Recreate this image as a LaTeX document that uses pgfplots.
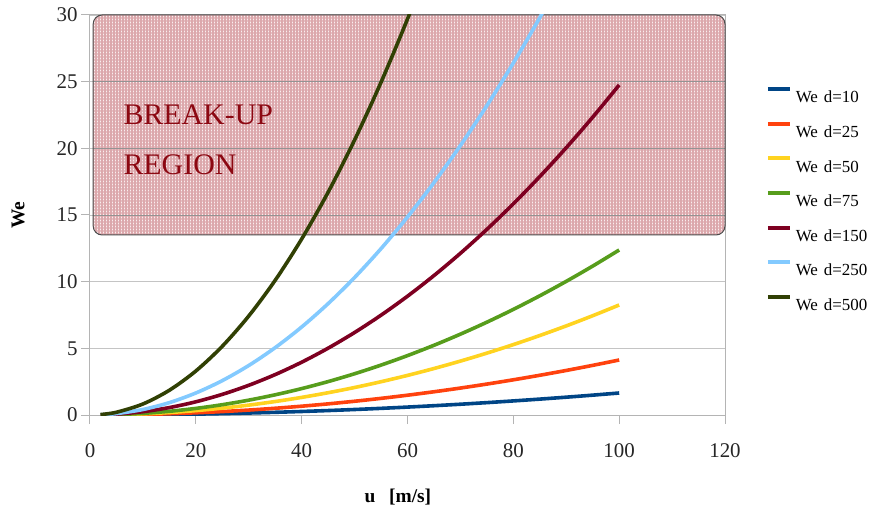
\documentclass[border=0pt]{standalone}
\usepackage{fontspec}
\setmainfont{Liberation Serif}
\usepackage{pgfplots}
\usepackage{pgfplotstable}
\pgfplotsset{compat=1.18}
\usetikzlibrary{patterns.meta}

\definecolor{cD10}{RGB}{0,69,134}
\definecolor{cD25}{RGB}{255,66,14}
\definecolor{cD50}{RGB}{255,211,32}
\definecolor{cD75}{RGB}{87,157,28}
\definecolor{cD150}{RGB}{126,0,33}
\definecolor{cD250}{RGB}{131,202,255}
\definecolor{cD500}{RGB}{49,64,4}
\definecolor{regionbase}{RGB}{250,238,239}
\definecolor{regionline}{RGB}{220,168,172}
\definecolor{regiontext}{RGB}{140,8,18}
\definecolor{gridgray}{RGB}{196,196,196}
\definecolor{axisgray}{RGB}{180,180,180}

% Weber number We against droplet velocity u for several diameters d
\pgfplotstableread{
u    d10     d25     d50     d75     d150    d250    d500
2    0.001   0.0017  0.0033  0.005   0.0099  0.0165  0.033
5    0.0041  0.0103  0.0206  0.0309  0.062   0.103   0.206
10   0.0165  0.0413  0.0825  0.124   0.2475  0.4125  0.825
15   0.0371  0.0928  0.186   0.278   0.557   0.928   1.856
20   0.066   0.165   0.33    0.495   0.99    1.65    3.3
25   0.103   0.258   0.516   0.773   1.547   2.578   5.156
30   0.1485  0.371   0.7425  1.114   2.228   3.7125  7.425
35   0.202   0.505   1.011   1.516   3.032   5.053   10.106
40   0.264   0.66    1.32    1.98    3.96    6.6     13.2
45   0.334   0.835   1.671   2.506   5.012   8.353   16.706
50   0.4125  1.031   2.0625  3.094   6.1875  10.3125 20.625
55   0.499   1.248   2.496   3.744   7.487   12.478  24.956
60   0.594   1.485   2.97    4.455   8.91    14.85   29.7
65   0.697   1.743   3.486   5.228   10.457  17.428  34.856
70   0.8085  2.021   4.043   6.064   12.128  20.213  40.43
75   0.928   2.32    4.641   6.961   13.922  23.203  46.41
80   1.056   2.64    5.28    7.92    15.84   26.4    52.8
85   1.192   2.98    5.961   8.941   17.882  29.803  59.61
90   1.3365  3.341   6.683   10.024  20.048  33.41   66.83
95   1.489   3.723   7.446   11.169  22.337  37.23   74.46
100  1.65    4.125   8.25    12.375  24.75   41.25   82.5
}\wetable

\begin{document}
\begin{tikzpicture}
\begin{axis}[
  clip mode=individual,
  scale only axis,
  width=635bp, height=400bp,
  at={(0,0)}, anchor=south west,
  xmin=0, xmax=120, ymin=0, ymax=30,
  xtick={0,20,...,120}, ytick={0,5,...,30},
  xtick pos=left, ytick pos=left,
  ymajorgrids,
  grid style={gridgray, line width=0.9bp},
  axis line style={axisgray, line width=1bp},
  tick style={axisgray, line width=1bp},
  tick align=outside,
  major tick length=9bp,
  /pgf/number format/assume math mode=true,
  tick label style={font=\fontsize{21}{21}\selectfont, text=black!85},
  xticklabel style={yshift=-16bp},
  xlabel={\textbf{u\hspace{0.7em}[m/s]}},
  ylabel={\textbf{We}},
  label style={font=\fontsize{19.5}{19.5}\selectfont},
  xlabel style={at={(axis description cs:0.485,-0.205)}, anchor=center},
  ylabel style={at={(axis description cs:-0.113,0.5)}, anchor=center},
  every axis plot/.append style={line width=3.6bp, smooth},
  legend cell align=left,
  legend style={
    at={(axis description cs:1.064,0.82)}, anchor=north west,
    draw=none, fill=none, inner sep=0pt,
    font=\fontsize{17}{17}\selectfont,
    row sep=15.5bp,
    nodes={inner xsep=4bp, inner ysep=2bp},
  },
  legend image code/.code={\draw[#1, line width=4bp] (0bp,8.5bp) -- (22bp,8.5bp);},
]
% break-up region: hatched box with rounded corners, grid lines kept visible
\path[rounded corners=9bp, fill=regionbase,
      postaction={pattern={Hatch[angle=0, distance=3bp, line width=1.8bp]}, pattern color=regionline}]
  (axis cs:0.6,13.5) rectangle (axis cs:120,30);
\draw[gridgray!75!black, line width=0.9bp] (axis cs:0.6,15) -- (axis cs:120,15);
\draw[gridgray!75!black, line width=0.9bp] (axis cs:0.6,20) -- (axis cs:120,20);
\draw[gridgray!75!black, line width=0.9bp] (axis cs:0.6,25) -- (axis cs:120,25);
\draw[rounded corners=9bp, black!70, line width=1bp]
  (axis cs:0.6,13.5) rectangle (axis cs:120,30);
\node[anchor=base west, text=regiontext, font=\fontsize{30}{30}\selectfont, inner sep=0pt]
  at (axis cs:6.3,21.75) {BREAK-UP};
\node[anchor=base west, text=regiontext, font=\fontsize{30}{30}\selectfont, inner sep=0pt]
  at (axis cs:6.3,18.0) {REGION};

\addplot[cD10]  table[x=u, y=d10]  {\wetable};
\addplot[cD25]  table[x=u, y=d25]  {\wetable};
\addplot[cD50]  table[x=u, y=d50]  {\wetable};
\addplot[cD75]  table[x=u, y=d75]  {\wetable};
\addplot[cD150] table[x=u, y=d150] {\wetable};
\addplot[cD250] table[x=u, y=d250] {\wetable};
\addplot[cD500] table[x=u, y=d500] {\wetable};
\legend{We\hspace{0.35em}d=10, We\hspace{0.35em}d=25, We\hspace{0.35em}d=50, We\hspace{0.35em}d=75,
        We\hspace{0.35em}d=150, We\hspace{0.35em}d=250, We\hspace{0.35em}d=500}
\end{axis}
\pgfresetboundingbox
\useasboundingbox (-90bp,-101bp) rectangle (780bp,415bp);
\end{tikzpicture}
\end{document}
